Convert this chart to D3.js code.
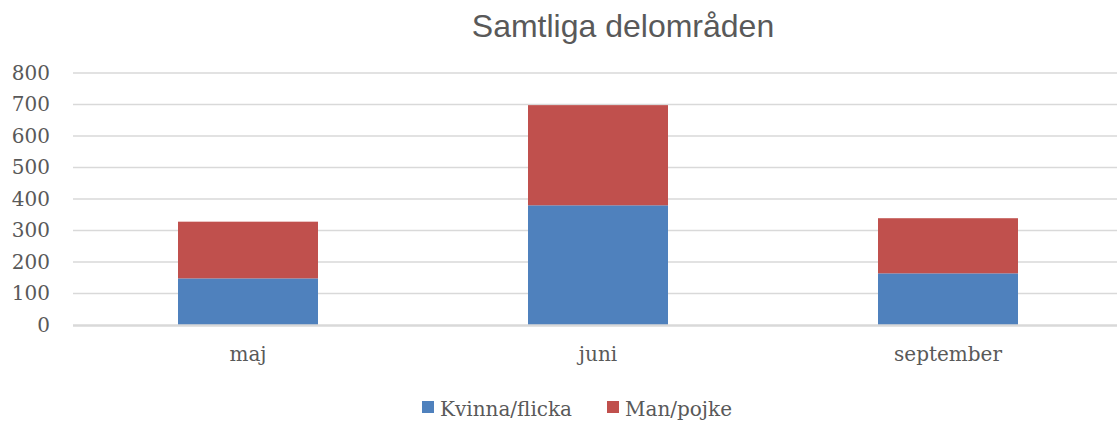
<!DOCTYPE html>
<html>
<head>
<meta charset="utf-8">
<script src="https://cdn.jsdelivr.net/npm/d3@7"></script>
<style>
  body { margin: 0; background: #fff; }
  svg { display: block; }
</style>
</head>
<body>
<svg id="chart"></svg>
<script>
const months = ['maj', 'juni', 'september']
const kvinna = [148, 380, 164]
const man = [180, 318, 175]
const yTicks = [0, 100, 200, 300, 400, 500, 600, 700, 800]
const seriesNames = ['Kvinna/flicka', 'Man/pojke']
const colors = ['#4F81BD', '#C0504D']

const outerWidth = 1117, outerHeight = 421
const margin = { top: 73, right: -6, bottom: 96, left: 73 }
const width = outerWidth - margin.left - margin.right,
  height = outerHeight - margin.top - margin.bottom

const svg = d3.select('#chart')
  .attr('width', outerWidth)
  .attr('height', outerHeight)

const rows = months.map((m, i) => ({ month: m, kvinna: kvinna[i], man: man[i] }))
const stack = d3.stack().keys(['kvinna', 'man'])(rows)

const xScale = d3.scaleBand()
  .domain(months)
  .range([0, width])
  .paddingInner(0.6)
  .paddingOuter(0.3)

const yScale = d3.scaleLinear()
  .domain([0, 800])
  .range([height, 0])

const plotArea = svg.append('g').attr('transform', 'translate(' + margin.left + ',' + margin.top + ')')

// gridlines
plotArea.append('g')
  .selectAll('line')
  .data(yTicks.filter(d => d > 0))
  .enter().append('line')
  .attr('x1', 0).attr('x2', width)
  .attr('y1', d => yScale(d)).attr('y2', d => yScale(d))
  .style('stroke', '#D9D9D9')
  .style('stroke-width', 1.5)

// bars
plotArea.selectAll('g.series')
  .data(stack)
  .enter().append('g')
  .attr('class', 'series')
  .style('fill', (d, i) => colors[i])
  .selectAll('rect')
  .data(d => d)
  .enter().append('rect')
  .attr('x', d => xScale(d.data.month))
  .attr('width', xScale.bandwidth())
  .attr('y', d => yScale(d[1]))
  .attr('height', d => yScale(d[0]) - yScale(d[1]))

// baseline
plotArea.append('line')
  .attr('x1', 0).attr('x2', width)
  .attr('y1', yScale(0) + 0.5).attr('y2', yScale(0) + 0.5)
  .style('stroke', '#D9D9D9')
  .style('stroke-width', 2.5)

const yAxis = d3.axisLeft(yScale).tickValues(yTicks).tickSize(0).tickPadding(23)
plotArea.append('g')
  .attr('class', 'y axis')
  .call(yAxis)
  .call(g => g.select('.domain').remove())
  .selectAll('text')
  .style('font-family', '"DejaVu Serif"')
  .style('font-size', '20px')
  .style('fill', '#595959')

const xAxis = d3.axisBottom(xScale).tickSize(0).tickPadding(22)
plotArea.append('g')
  .attr('class', 'x axis')
  .attr('transform', 'translate(0,' + height + ')')
  .call(xAxis)
  .call(g => g.select('.domain').remove())
  .selectAll('text')
  .style('font-family', '"DejaVu Serif"')
  .style('font-size', '20px')
  .style('fill', '#595959')

svg.append('text')
  .attr('x', 623)
  .attr('y', 37)
  .attr('text-anchor', 'middle')
  .style('font-family', '"Liberation Sans", Arial')
  .style('font-size', '32px')
  .style('fill', '#595959')
  .text('Samtliga delområden')

// legend
const legendX = [422, 607]
const legend = svg.append('g')
  .selectAll('g')
  .data(seriesNames)
  .enter().append('g')
  .attr('transform', (d, i) => 'translate(' + legendX[i] + ',401)')
legend.append('rect')
  .attr('width', 12).attr('height', 12)
  .style('fill', (d, i) => colors[i])
legend.append('text')
  .attr('x', 18)
  .attr('y', 15)
  .style('font-family', '"DejaVu Serif"')
  .style('font-size', '20px')
  .style('fill', '#595959')
  .text(d => d)
</script>
</body>
</html>
